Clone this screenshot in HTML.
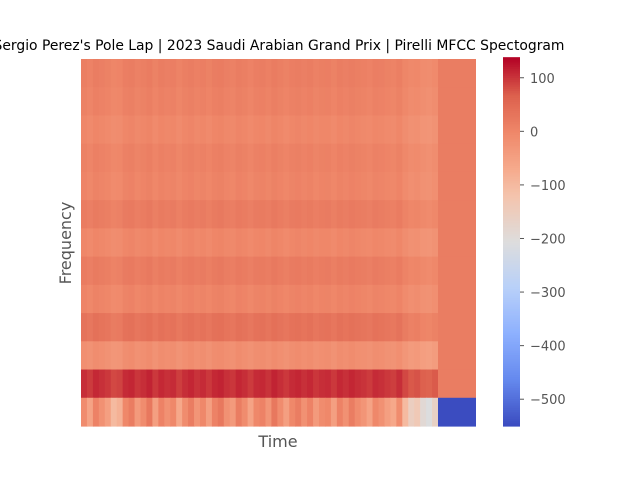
<!DOCTYPE html>
<html><head><meta charset="utf-8"><style>
body{margin:0;background:#fff;font-family:"DejaVu Sans","Liberation Sans",sans-serif;}
#wrap{position:relative;width:640px;height:480px;overflow:hidden;}
</style></head><body>
<div id="wrap">
<svg id="svg" width="640" height="480" xmlns="http://www.w3.org/2000/svg" font-family="DejaVu Sans, Liberation Sans, sans-serif">
<text x="279" y="50" text-anchor="middle" font-size="13.9" fill="#000">Sergio Perez's Pole Lap | 2023 Saudi Arabian Grand Prix | Pirelli MFCC Spectogram</text>
<g id="cells"></g>
<g id="cbar"></g>
<text x="278" y="447" text-anchor="middle" font-size="16" fill="#555">Time</text>
<text x="71" y="243" text-anchor="middle" font-size="16" fill="#555" transform="rotate(-90 71 243)">Frequency</text>
</svg>
</div>
<script>
const rowMeans = [10, 5, -5, 5, 0, 15, -5, 15, 0, 30, -20, 100, -30];
const rowAmps  = [12, 12, 12, 12, 12, 12, 12, 12, 12, 15, 15, 20, 90];
const silentVals = [15, 15, 15, 15, 15, 15, 15, 15, 15, 15, 15, 15, -550];
const energy = [0.2,-0.3,0.4,0.1,-0.2,-0.8,-0.6,0.3,0.5,-0.1,0.2,0.6,-0.2,0.4,0.1,0.3,-0.4,0.2,0.5,0.0,
  0.3,-0.2,0.4,0.6,0.1,-0.1,0.5,0.2,-0.3,0.3,0.4,0.0,0.6,0.2,-0.2,0.3,0.5,0.1,0.4,-0.1,
  0.2,0.3,-0.2,0.4,0.1,0.5,0.2,0.0,-0.3,0.3,0.1,-0.2,-0.4,0.2,-0.8,-1.4,-1.2,-1.8,-2.0,-1.5];
const cbTicks = [100, 0, -100, -200, -300, -400, -500];
const vmin = -550, vmax = 135;

const stops=[[0,[59,76,192]],[0.125,[101,137,238]],[0.25,[141,176,254]],[0.375,[184,208,249]],[0.5,[221,221,221]],[0.625,[244,196,173]],[0.7,[246,170,140]],[0.8,[239,135,105]],[0.9,[220,96,77]],[1,[180,4,38]]];
function cmap(v){let t=(v-vmin)/(vmax-vmin);t=Math.max(0,Math.min(1,t));
 for(let i=1;i<stops.length;i++){if(t<=stops[i][0]){const a=stops[i-1],b=stops[i];const f=(t-a[0])/(b[0]-a[0]);
 const c=a[1].map((x,k)=>Math.round(x+(b[1][k]-x)*f));return `rgb(${c})`;}}return 'rgb(180,4,38)';}
const NS='http://www.w3.org/2000/svg';
const X0=81,XA=438,X1=476,Y0=59,Y1=426;
const nR=rowMeans.length,rh=(Y1-Y0)/nR,cw=(XA-X0)/energy.length;
const g=document.getElementById('cells');
function rect(p,x,y,w,h,f){const r=document.createElementNS(NS,'rect');r.setAttribute('x',x);r.setAttribute('y',y);r.setAttribute('width',w);r.setAttribute('height',h);r.setAttribute('fill',f);p.appendChild(r);return r;}
for(let r=0;r<nR;r++){
 for(let c=0;c<energy.length;c++){
  const el=rect(g,X0+c*cw,Y0+r*rh,cw+0.6,rh+0.6,cmap(rowMeans[r]+rowAmps[r]*energy[c]));
  
  
 }
 const s=rect(g,XA,Y0+r*rh,X1-XA,rh+0.6,cmap(silentVals[r]));
 
 
}
const cb=document.getElementById('cbar');
const CX=503,CW=17;
function yv(v){return Y1-(v-vmin)/(vmax-vmin)*(Y1-Y0);}
for(let i=0;i<=200;i++){const v=vmin+(vmax-vmin)*i/200;const y=yv(v+(vmax-vmin)/200);
 const el=rect(cb,CX,y,CW,(Y1-Y0)/200+0.6,cmap(v));
 
 }
cbTicks.forEach(v=>{const y=yv(v);
 const l=document.createElementNS(NS,'line');l.setAttribute('x1',CX+CW);l.setAttribute('x2',CX+CW+4);l.setAttribute('y1',y);l.setAttribute('y2',y);l.setAttribute('stroke','#555');
 
 
 cb.appendChild(l);
 const t=document.createElementNS(NS,'text');t.setAttribute('x',CX+CW+10);t.setAttribute('y',y+5);t.setAttribute('font-size','13');t.setAttribute('fill','#555');t.textContent=v===0?'0':(v<0?'\u2212'+(-v):v);
 
 
 cb.appendChild(t);});
</script>
</body></html>
